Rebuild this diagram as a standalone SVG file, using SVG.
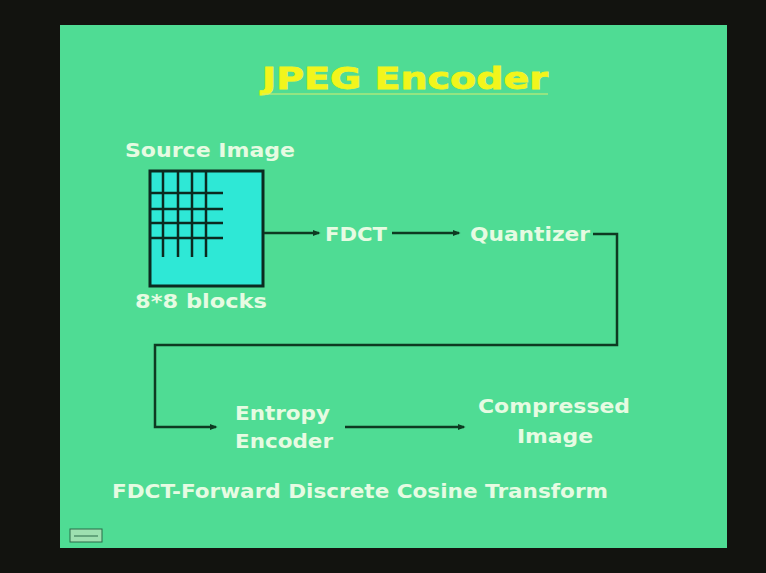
<svg xmlns="http://www.w3.org/2000/svg" width="766" height="573" viewBox="0 0 766 573">
<defs>
<style>
.lbl{font-family:"DejaVu Sans",Verdana,sans-serif;font-weight:bold;fill:#e6fbe2;font-size:20px}
.ln{stroke:#0e3a22;stroke-width:2.5;fill:none}
.grid{stroke:#0b2a20;stroke-width:2.5}
</style>
<marker id="ah" viewBox="0 0 10 10" refX="8" refY="5" markerWidth="3" markerHeight="3" orient="auto">
<path d="M0,1 L10,5 L0,9 z" fill="#0e3a22"/>
</marker>
</defs>
<rect x="0" y="0" width="766" height="573" fill="#12130f"/>
<rect x="60" y="25" width="667" height="523" fill="#4fdc94"/>

<g id="title">
<text x="405" y="89" text-anchor="middle" font-family="'DejaVu Sans',Verdana,sans-serif" font-weight="bold" font-size="31" fill="#f2f51c" stroke="#f2f51c" stroke-width="0.8" textLength="286" lengthAdjust="spacingAndGlyphs">JPEG Encoder</text>
<line x1="262" y1="94" x2="548" y2="94" stroke="#d8ee70" stroke-width="1.2"/>
</g>

<g id="source">
<text class="lbl" x="125" y="157" textLength="170" lengthAdjust="spacingAndGlyphs">Source Image</text>
<rect x="150" y="171" width="113" height="115" fill="#2ee8d6" stroke="#0b2a20" stroke-width="3"/>
<g class="grid">
<line x1="163" y1="171" x2="163" y2="257"/>
<line x1="178" y1="171" x2="178" y2="257"/>
<line x1="192" y1="171" x2="192" y2="257"/>
<line x1="206" y1="171" x2="206" y2="257"/>
<line x1="150" y1="193" x2="223" y2="193"/>
<line x1="150" y1="209" x2="223" y2="209"/>
<line x1="150" y1="223" x2="223" y2="223"/>
<line x1="150" y1="238" x2="223" y2="238"/>
</g>
<text class="lbl" x="135" y="308" textLength="132" lengthAdjust="spacingAndGlyphs">8*8 blocks</text>
</g>

<g id="fdct"><text class="lbl" x="325" y="241" textLength="62" lengthAdjust="spacingAndGlyphs">FDCT</text></g>
<g id="quantizer"><text class="lbl" x="470" y="241" textLength="120" lengthAdjust="spacingAndGlyphs">Quantizer</text></g>
<g id="entropy">
<text class="lbl" x="235" y="420" textLength="95" lengthAdjust="spacingAndGlyphs">Entropy</text>
<text class="lbl" x="235" y="448" textLength="98" lengthAdjust="spacingAndGlyphs">Encoder</text>
</g>
<g id="compressed">
<text class="lbl" x="478" y="413" textLength="152" lengthAdjust="spacingAndGlyphs">Compressed</text>
<text class="lbl" x="517" y="443" textLength="76" lengthAdjust="spacingAndGlyphs">Image</text>
</g>

<g id="connectors">
<line class="ln" x1="264" y1="233" x2="319" y2="233" marker-end="url(#ah)"/>
<line class="ln" x1="392" y1="233" x2="459" y2="233" marker-end="url(#ah)"/>
<polyline class="ln" points="593,234 617,234 617,345 155,345 155,427 216,427" marker-end="url(#ah)"/>
<line class="ln" x1="345" y1="427" x2="464" y2="427" marker-end="url(#ah)"/>
</g>

<g id="footer">
<text class="lbl" x="112" y="498" textLength="496" lengthAdjust="spacingAndGlyphs">FDCT-Forward Discrete Cosine Transform</text>
</g>

<g id="icon">
<rect x="70" y="529" width="32" height="13" fill="#9ee0b0" stroke="#2a6a48" stroke-width="1"/>
<line x1="74" y1="536" x2="98" y2="536" stroke="#2a6a48" stroke-width="1"/>
</g>
</svg>
